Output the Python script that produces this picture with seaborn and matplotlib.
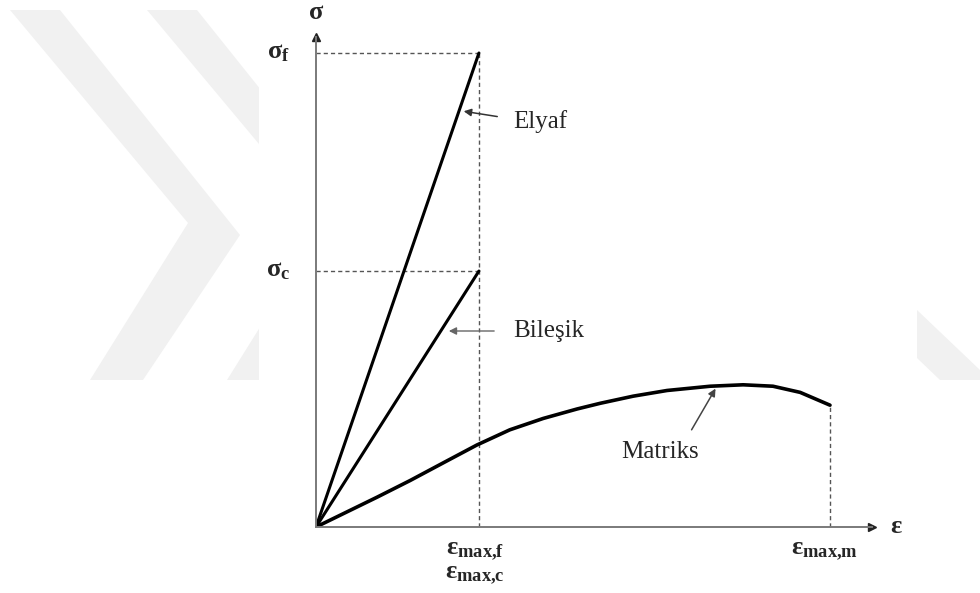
import numpy as np
import matplotlib
matplotlib.use("Agg")
import matplotlib.pyplot as plt
from matplotlib.patches import Polygon, Rectangle
import seaborn as sns

# Strain / stress values (normalised: eps_max,m = 1, sigma_f = 1)
EPS_F = 0.317          # eps_max,f = eps_max,c
EPS_M = 1.0            # eps_max,m
SIG_F = 1.0
SIG_C = 0.540

eps_fiber = [0.0, EPS_F]
sig_fiber = [0.0, SIG_F]

eps_comp = [0.0, EPS_F]
sig_comp = [0.0, SIG_C]

eps_matrix = [0.0, 0.119, 0.183, 0.247, 0.313, 0.377, 0.442, 0.508, 0.553,
              0.617, 0.683, 0.767, 0.831, 0.889, 0.942, 1.0]
sig_matrix = [0.0, 0.063, 0.098, 0.135, 0.173, 0.205, 0.229, 0.249, 0.261,
              0.276, 0.288, 0.297, 0.300, 0.297, 0.284, 0.257]

curve_labels = ["Elyaf", "Bileşik", "Matriks"]

sns.set_theme(style="white")
plt.rcParams["font.family"] = ["Liberation Serif", "DejaVu Serif"]
plt.rcParams["mathtext.fontset"] = "custom"
plt.rcParams["mathtext.rm"] = "Liberation Serif"
plt.rcParams["mathtext.it"] = "Liberation Serif:italic"
plt.rcParams["mathtext.bf"] = "Liberation Serif:bold"

W, H = 980, 593
fig = plt.figure(figsize=(W / 100, H / 100), dpi=100)

# faint watermark chevrons behind the picture (pixel coordinates)
bg = fig.add_axes([0, 0, 1, 1])
bg.set_xlim(0, W)
bg.set_ylim(H, 0)
bg.axis("off")
wm = "#f1f1f1"
chev = np.array([(10, 10), (60, 10), (240, 235), (143, 380), (90, 380), (188, 223)])
for dx in (0, 137):
    bg.add_patch(Polygon(chev + [dx, 0], closed=True, color=wm, lw=0))
bg.add_patch(Polygon([(917, 310), (980, 370), (980, 380), (940, 380), (917, 358)],
                     closed=True, color=wm, lw=0))
bg.add_patch(Rectangle((259, 0), 917 - 259, H, color="white", lw=0))

# main diagram axes: lower-left corner at the origin
x0, y0 = 316, 527
sx, sy = 514, 474
x_tip, y_tip = 872, 37
ax = fig.add_axes([x0 / W, (H - y0) / H, (x_tip - x0) / W, (y0 - y_tip) / H])
ax.patch.set_alpha(0)
ax.set_xlim(0, (x_tip - x0) / sx)
ax.set_ylim(0, (y0 - y_tip) / sy)
ax.set_xticks([])
ax.set_yticks([])
for s in ("top", "right"):
    ax.spines[s].set_visible(False)
for s in ("left", "bottom"):
    ax.spines[s].set_color("#7a7a7a")
    ax.spines[s].set_linewidth(1.4)
ax.plot(1, 0, ">", color="#222222", ms=6, transform=ax.get_yaxis_transform(), clip_on=False)
ax.plot(0, 1, "^", color="#222222", ms=6, transform=ax.get_xaxis_transform(), clip_on=False)

# dashed guide lines
dash = dict(color="#555555", lw=1.0, dashes=(3, 2.2))
ax.plot([0, EPS_F], [SIG_F, SIG_F], **dash)
ax.plot([0, EPS_F], [SIG_C, SIG_C], **dash)
ax.plot([EPS_F, EPS_F], [0, SIG_F], **dash)
ax.plot([EPS_M, EPS_M], [0, sig_matrix[-1]], **dash)

# curves
sns.lineplot(x=eps_fiber, y=sig_fiber, ax=ax, color="black", lw=2.2, sort=False, estimator=None)
sns.lineplot(x=eps_comp, y=sig_comp, ax=ax, color="black", lw=2.2, sort=False, estimator=None)
sns.lineplot(x=eps_matrix, y=sig_matrix, ax=ax, color="black", lw=2.6, sort=False, estimator=None)

# curve labels with pointer arrows
fs = 18
ax.text(0.383, 0.842, curve_labels[0], fontsize=fs, ha="left", va="baseline")
ax.annotate("", xy=(0.282, 0.878), xytext=(0.358, 0.865),
            arrowprops=dict(arrowstyle="-|>", color="#333333", lw=1.1, mutation_scale=11))
ax.text(0.383, 0.401, curve_labels[1], fontsize=fs, ha="left", va="baseline")
ax.annotate("", xy=(0.253, 0.4135), xytext=(0.352, 0.4135),
            arrowprops=dict(arrowstyle="-|>", color="#666666", lw=1.0, mutation_scale=11))
ax.text(0.669, 0.1456, curve_labels[2], fontsize=fs, ha="center", va="baseline")
ax.annotate("", xy=(0.780, 0.297), xytext=(0.728, 0.200),
            arrowprops=dict(arrowstyle="-|>", color="#444444", lw=1.1, mutation_scale=11))

# axis symbols
fg = 19
ax.text(0, 1.084, r"$\mathbf{\sigma}$", fontsize=fg, ha="center", va="center")
ax.text(1.130, 0, r"$\mathbf{\varepsilon}$", fontsize=fg, ha="center", va="center")
ax.text(-0.0506, SIG_F, r"$\mathbf{\sigma_f}$", fontsize=fg, ha="right", va="center")
ax.text(-0.0506, SIG_C, r"$\mathbf{\sigma_c}$", fontsize=fg, ha="right", va="center")
ax.text(EPS_F - 0.008, -0.053, r"$\mathbf{\varepsilon_{max{,}f}}$", fontsize=fg, ha="center", va="center")
ax.text(EPS_F - 0.008, -0.103, r"$\mathbf{\varepsilon_{max{,}c}}$", fontsize=fg, ha="center", va="center")
ax.text(EPS_M - 0.01, -0.053, r"$\mathbf{\varepsilon_{max{,}m}}$", fontsize=fg, ha="center", va="center")

fig.savefig("out.png", dpi=100)
